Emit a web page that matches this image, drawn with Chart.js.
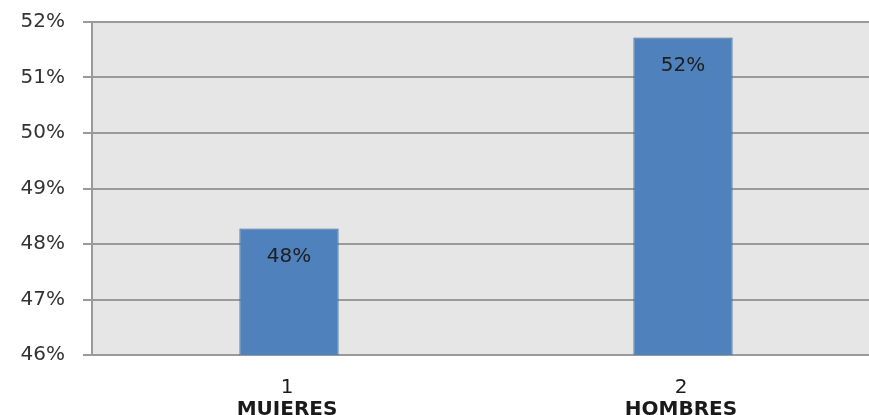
<!DOCTYPE html>
<html>
<head>
<meta charset="utf-8">
<script src="https://cdn.jsdelivr.net/npm/chart.js@4"></script>
<style>
  html, body { margin: 0; padding: 0; background: #fff; overflow: hidden; }
  #wrap { width: 869px; height: 415px; overflow: hidden; }
</style>
</head>
<body>
<div id="wrap"><canvas id="chart" width="880" height="415"></canvas></div>
<script>
// ---------- Datos ----------
const numeros = ["1", "2"];
const categorias = ["MUJERES", "HOMBRES"];
const porcentajes = [48.28, 51.72];
const etiquetas = ["48%", "52%"];
const ticksY = [46, 47, 48, 49, 50, 51, 52];

const FONT = "'DejaVu Sans', Verdana, sans-serif";

// fondo gris del área de trazado
const plotBg = {
  id: "plotBg",
  beforeDraw(chart) {
    const { ctx, chartArea: a } = chart;
    ctx.save();
    ctx.fillStyle = "#e6e6e6";
    ctx.fillRect(a.left, a.top, a.right - a.left, a.bottom - a.top);
    ctx.restore();
  },
};

// etiquetas de valor dentro de las barras
const valueLabels = {
  id: "valueLabels",
  afterDatasetsDraw(chart) {
    const { ctx } = chart;
    const meta = chart.getDatasetMeta(0);
    ctx.save();
    ctx.font = "20px " + FONT;
    ctx.fillStyle = "#1e1e1e";
    ctx.textAlign = "center";
    ctx.textBaseline = "middle";
    meta.data.forEach((bar, i) => {
      ctx.fillText(etiquetas[i], bar.x, bar.y + 28);
    });
    ctx.restore();
  },
};

// etiquetas del eje X en dos líneas (número normal, nombre en negrita)
const xLabels = {
  id: "xLabels",
  afterDraw(chart) {
    const { ctx } = chart;
    const xs = chart.scales.x;
    ctx.save();
    ctx.fillStyle = "#1a1a1a";
    ctx.textAlign = "center";
    ctx.textBaseline = "middle";
    categorias.forEach((c, i) => {
      const x = xs.getPixelForValue(i) - 2;
      ctx.font = "20px " + FONT;
      ctx.fillText(numeros[i], x, 388);
      ctx.font = "bold 20px " + FONT;
      ctx.fillText(c, x, 410);
    });
    ctx.restore();
  },
};

new Chart(document.getElementById("chart"), {
  type: "bar",
  data: {
    labels: categorias,
    datasets: [
      {
        data: porcentajes,
        backgroundColor: "#4f81bd",
        borderColor: "#3c6898",
        borderWidth: 1,
        borderSkipped: false,
        categoryPercentage: 1,
        barPercentage: 0.252,
      },
    ],
  },
  options: {
    responsive: false,
    animation: false,
    layout: { padding: { top: 22, right: 0, bottom: 0, left: 0 } },
    plugins: { legend: { display: false }, tooltip: { enabled: false } },
    scales: {
      x: {
        ticks: { display: false },
        grid: { display: false },
        border: { color: "#9a9a9a", width: 2 },
        afterFit(s) { s.height = 60; },
      },
      y: {
        min: ticksY[0],
        max: ticksY[ticksY.length - 1],
        afterBuildTicks(s) { s.ticks = ticksY.map((v) => ({ value: v })); },
        ticks: {
          callback: (v) => v + "%",
          font: { family: FONT, size: 20 },
          color: "#333",
          padding: 18,
        },
        grid: { color: "#9a9a9a", lineWidth: 2, tickLength: 9 },
        border: { color: "#9a9a9a", width: 2 },
        afterFit(s) {
          s.width = 92;
          s.paddingTop = 0;
          s.paddingBottom = 0;
        },
      },
    },
  },
  plugins: [plotBg, valueLabels, xLabels],
});
</script>
</body>
</html>
